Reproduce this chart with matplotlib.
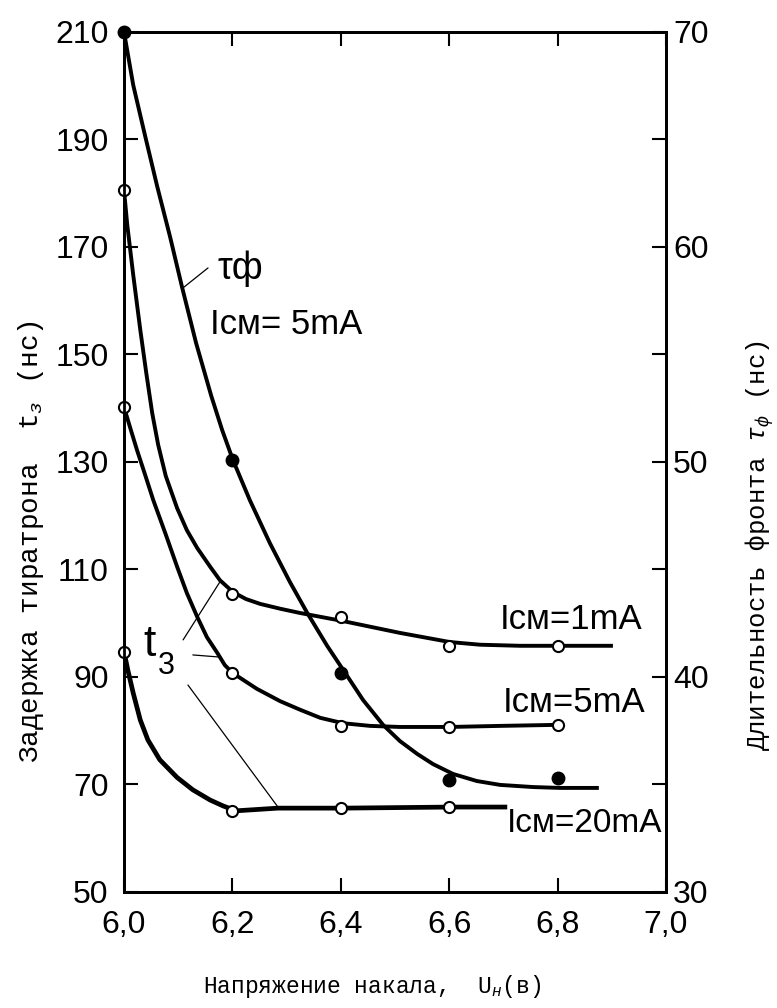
import numpy as np
import matplotlib
matplotlib.use("Agg")
import matplotlib.pyplot as plt

plt.rcParams['mathtext.fontset'] = 'custom'
plt.rcParams['mathtext.rm'] = 'Liberation Mono'
plt.rcParams['mathtext.it'] = 'Liberation Mono:italic'

# ------------------------------
# data
# ------------------------------
# measured points (t3 on left axis, ns)
u_pts = [6.0, 6.2, 6.4, 6.6, 6.8]
t3_1mA = [180.6, 105.4, 101.2, 95.8, 95.8]
t3_5mA = [140.2, 90.7, 80.9, 80.7, 81.1]
u_pts_20 = [6.0, 6.2, 6.4, 6.6]
t3_20mA = [94.7, 65.1, 65.6, 65.8]
# front duration (right axis, ns)
tf_5mA = [70.0, 50.1, 40.2, 35.2, 35.3]

# hand-drawn curves
c1_u = [6.0, 6.006, 6.017, 6.030, 6.041, 6.052, 6.063, 6.077, 6.098, 6.116, 6.135, 6.159, 6.177,
        6.201, 6.225, 6.251, 6.288, 6.325, 6.404, 6.509, 6.601, 6.657, 6.731, 6.902]
c1_t = [180.6, 174.1, 164.8, 154.6, 146.6, 139.1, 133.2, 127.4, 121.4, 117.3, 114.0, 110.5, 108.0,
        105.8, 104.5, 103.6, 102.7, 101.9, 100.4, 98.2, 96.5, 96.0, 95.8, 95.8]

c5_u = [6.0, 6.011, 6.024, 6.039, 6.054, 6.076, 6.098, 6.116, 6.135, 6.153, 6.172, 6.186, 6.201,
        6.245, 6.288, 6.325, 6.362, 6.404, 6.454, 6.509, 6.601, 6.694, 6.804]
c5_t = [140.2, 136.5, 132.2, 127.6, 122.9, 116.8, 110.5, 105.6, 101.2, 97.4, 94.5, 92.2, 90.7,
        87.8, 85.5, 83.9, 82.4, 81.4, 80.9, 80.7, 80.7, 80.9, 81.1]

c20_u = [6.0, 6.007, 6.017, 6.030, 6.044, 6.066, 6.098, 6.127, 6.159, 6.183, 6.207, 6.284, 6.404, 6.605, 6.707]
c20_t = [94.7, 91.3, 87.0, 82.0, 78.3, 74.6, 71.3, 69.0, 67.1, 66.0, 65.1, 65.6, 65.6, 65.8, 65.8]

cf_u = [6.0, 6.017, 6.039, 6.061, 6.085, 6.107, 6.133, 6.161, 6.181, 6.201, 6.232, 6.269, 6.306,
        6.338, 6.375, 6.408, 6.441, 6.478, 6.509, 6.541, 6.570, 6.607, 6.651, 6.694, 6.755, 6.804, 6.876]
cf_t = [70.0, 67.53, 65.16, 62.84, 60.47, 58.14, 55.53, 53.07, 51.49, 50.09, 48.23, 46.23, 44.42,
        42.98, 41.44, 40.19, 38.93, 37.77, 37.02, 36.42, 35.95, 35.49, 35.16, 34.98, 34.88, 34.84, 34.84]

x_ticks = [6.0, 6.2, 6.4, 6.6, 6.8, 7.0]
x_labels = ['6,0', '6,2', '6,4', '6,6', '6,8', '7,0']
left_ticks = [50, 70, 90, 110, 130, 150, 170, 190, 210]
right_ticks = [30, 35, 40, 45, 50, 55, 60, 65, 70]
right_labels = ['30', '', '40', '', '50', '', '60', '', '70']

sans = ['Liberation Sans', 'DejaVu Sans']

fig = plt.figure(figsize=(7.77, 10.08), dpi=100)
ax = fig.add_axes([0.1596, 0.1151, 0.6976, 0.8532])
ax2 = ax.twinx()

lw = 2.8
ax.plot(c1_u, c1_t, color='black', lw=lw, solid_capstyle='butt', solid_joinstyle='round', zorder=3)
ax.plot(c5_u, c5_t, color='black', lw=lw, solid_capstyle='butt', solid_joinstyle='round', zorder=3)
ax.plot(c20_u, c20_t, color='black', lw=lw + 0.6, solid_capstyle='butt', solid_joinstyle='round', zorder=3)
ax2.plot(cf_u, cf_t, color='black', lw=lw, solid_capstyle='butt', solid_joinstyle='round', zorder=3)

mk = dict(marker='o', ls='none', ms=8, mfc='white', mec='black', mew=1.5, clip_on=False, zorder=5)
ax.plot(u_pts, t3_1mA, **mk)
ax.plot(u_pts, t3_5mA, **mk)
ax.plot(u_pts_20, t3_20mA, **mk)
ax2.plot(u_pts, tf_5mA, marker='o', ls='none', ms=9, color='black', clip_on=False, zorder=5)

ax.set_xlim(6.0, 7.0)
ax.set_ylim(50, 210)
ax2.set_ylim(30, 70)

ax.set_xticks(x_ticks)
ax.set_xticklabels(x_labels, family=sans, fontsize=23)
ax.set_yticks(left_ticks)
ax.set_yticklabels([str(v) for v in left_ticks], family=sans, fontsize=23)
ax2.set_yticks(right_ticks)
ax2.set_yticklabels(right_labels, family=sans, fontsize=23)

ax.tick_params(axis='both', direction='in', length=10, width=1.5, top=True)
ax.tick_params(axis='x', pad=13)
ax.tick_params(axis='y', pad=11)
ax2.tick_params(axis='y', direction='in', length=10, width=1.5, pad=5)
for a in (ax, ax2):
    for s in a.spines.values():
        s.set_linewidth(2)

ax.set_ylabel('Задержка тиратрона  t$_{з}$ (нс)', family='Liberation Mono', fontsize=20)
ax.yaxis.set_label_coords(-0.144, 0.408)
ax2.set_ylabel('Длительность фронта $\\mathit{τ}_{ф}$ (нс)', family='Liberation Mono', fontsize=18.5,
               rotation=90)
ax2.yaxis.set_label_coords(1.142, 0.403)
ax.set_xlabel('Напряжение накала,  U$_{н}$(в)', family='Liberation Mono', fontsize=16.5)
ax.xaxis.set_label_coords(0.458, -0.094)

# annotations
ax.text(6.172, 166, 'τф', family=sans, fontsize=27, va='center', ha='left')
ax.text(6.159, 155.5, 'Iсм= 5mA', family=sans, fontsize=25, va='center', ha='left')
ax.text(6.694, 100.6, 'Iсм=1mA', family=sans, fontsize=25, va='center', ha='left')
ax.text(6.699, 85.3, 'Iсм=5mA', family=sans, fontsize=25, va='center', ha='left')
ax.text(6.706, 62.7, 'Iсм=20mA', family=sans, fontsize=24, va='center', ha='left')
ax.text(6.035, 96.0, 't', family=sans, fontsize=32, va='center', ha='left')
ax.text(6.063, 92.0, '3', family=sans, fontsize=22, va='center', ha='left')

leader = dict(arrowstyle='-', color='black', lw=0.9, shrinkA=0, shrinkB=0)
ax.annotate('', xy=(6.109, 162.4), xytext=(6.155, 166.1), arrowprops=leader)
ax.annotate('', xy=(6.177, 107.7), xytext=(6.109, 96.9), arrowprops=leader)
ax.annotate('', xy=(6.177, 93.7), xytext=(6.127, 94.1), arrowprops=leader)
ax.annotate('', xy=(6.284, 65.8), xytext=(6.118, 88.5), arrowprops=leader)

fig.savefig('out.png', dpi=100)
